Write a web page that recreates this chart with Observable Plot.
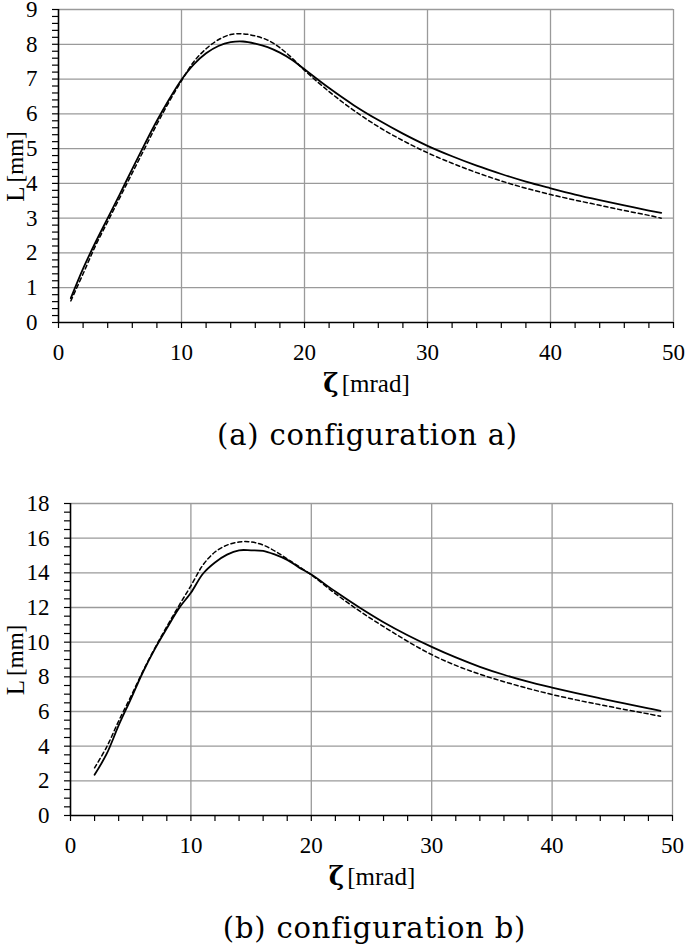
<!DOCTYPE html>
<html><head><meta charset="utf-8">
<script src="https://cdn.jsdelivr.net/npm/d3@7"></script>
<script src="https://cdn.jsdelivr.net/npm/@observablehq/plot@0.6"></script>
<style>
body{margin:0;background:#fff;}
#wrap{position:relative;width:685px;height:952px;overflow:hidden;background:#fff;}
.cap{position:absolute;text-align:center;font-family:"DejaVu Serif",serif;font-size:29px;line-height:36px;letter-spacing:0.8px;color:#000;white-space:nowrap;}
#wrap svg{position:absolute;left:0;}
</style></head><body><div id="wrap"></div>
<script>
// ---- configuration a) ----
const zetaA   = [1,2,3,4,5,6,7,8,9,10,11,12,13,14,15,16,17,18,19,20,22,24,26,28,30,32,34,36,38,40,42,44,46,48,49];
const solidA  = [0.70,1.55,2.30,3.00,3.70,4.42,5.12,5.80,6.42,6.98,7.42,7.74,7.95,8.06,8.08,8.02,7.92,7.76,7.55,7.28,6.74,6.25,5.82,5.43,5.08,4.78,4.51,4.27,4.05,3.86,3.68,3.52,3.37,3.22,3.15];
const dashedA = [0.62,1.40,2.20,2.90,3.60,4.30,5.00,5.70,6.35,6.95,7.50,7.87,8.13,8.28,8.30,8.24,8.12,7.90,7.60,7.25,6.64,6.10,5.63,5.23,4.88,4.58,4.31,4.07,3.86,3.68,3.52,3.37,3.22,3.08,3.00];
// ---- configuration b) ----
const zetaB   = [2,3,4,5,6,7,8,9,10,11,12,13,14,15,16,17,18,19,20,22,24,26,28,30,32,34,36,38,40,42,44,46,48,49];
const solidB  = [2.35,3.55,5.20,6.70,8.25,9.60,10.80,11.95,12.85,13.95,14.60,15.05,15.30,15.30,15.27,15.05,14.75,14.30,13.90,12.92,12.00,11.15,10.40,9.73,9.12,8.58,8.12,7.72,7.38,7.06,6.76,6.47,6.18,6.04];
const dashedB = [2.75,3.95,5.45,6.85,8.30,9.65,10.90,12.10,13.25,14.45,15.20,15.60,15.78,15.78,15.60,15.25,14.80,14.35,13.88,12.80,11.80,10.90,10.05,9.28,8.66,8.15,7.72,7.33,6.98,6.67,6.39,6.12,5.86,5.73];
// ---- ticks and texts ----
const xTicks  = [0,10,20,30,40,50];
const yTicksA = [0,1,2,3,4,5,6,7,8,9];
const yTicksB = [0,2,4,6,8,10,12,14,16,18];
const xLabel  = ["ζ", "[mrad]"];
const yLabel  = ["L", "[mm]"];
const captions = ["(a) configuration a)", "(b) configuration b)"];

const wrap = document.getElementById("wrap");

function chart({zeta, solid, dashed, yTicks, yMinorStep, top, marginLeft, marginRight, plotH}) {
  const yMax = yTicks[yTicks.length - 1];
  const rowsS = zeta.map((z, i) => ({z, L: solid[i]}));
  const rowsD = zeta.map((z, i) => ({z, L: dashed[i]}));
  const xMinor = d3.range(0, 50.001, 2).filter(v => v % 10 !== 0);
  const yMinor = d3.range(0, yMax + 1e-6, yMinorStep).map(v => +v.toFixed(3)).filter(v => !yTicks.includes(v));
  const grid = {stroke: "#9a9a9a", strokeOpacity: 1, strokeWidth: 1.3};
  const svg = Plot.plot({
    width: 685, height: 9 + plotH + 80,
    marginTop: 9, marginBottom: 80, marginLeft, marginRight,
    x: {domain: [0, 50], label: null},
    y: {domain: [0, yMax], label: null},
    style: {fontFamily: "'Liberation Serif', serif", fontSize: "23px", color: "#000", background: "transparent", overflow: "visible"},
    marks: [
      Plot.gridX(xTicks.slice(1), grid),
      Plot.gridY(yTicks.slice(1), grid),
      Plot.axisX(xMinor, {tickSize: 6, tickFormat: () => "", label: null, strokeWidth: 1.2}),
      Plot.axisX(xTicks, {tickSize: 6, tickPadding: 15, label: null, strokeWidth: 1.2, fontSize: 23}),
      Plot.axisY(yMinor, {tickSize: 6, tickFormat: () => "", label: null, strokeWidth: 1.2}),
      Plot.axisY(yTicks, {tickSize: 6, tickPadding: 15, label: null, strokeWidth: 1.2, fontSize: 23}),
      Plot.ruleX([0], {stroke: "#000", strokeWidth: 1.6}),
      Plot.ruleY([0], {stroke: "#000", strokeWidth: 1.6}),
      Plot.line(rowsS, {x: "z", y: "L", stroke: "#000", strokeWidth: 1.8, curve: "catmull-rom"}),
      Plot.line(rowsD, {x: "z", y: "L", stroke: "#000", strokeWidth: 1.5, strokeDasharray: "4,3", curve: "catmull-rom"})
    ]
  });
  svg.style.top = top + "px";
  const s = d3.select(svg);
  const cx = (marginLeft + 685 - marginRight) / 2 + 1;
  const xl = s.append("text")
    .attr("x", cx).attr("y", 9 + plotH + 61)
    .attr("text-anchor", "middle").attr("dominant-baseline", "central")
    .attr("font-family", "'Liberation Serif', serif").attr("fill", "#000");
  xl.append("tspan").attr("font-size", 26).attr("font-weight", "bold").attr("font-family", "'DejaVu Serif', serif").text(xLabel[0]);
  xl.append("tspan").attr("font-size", 25).attr("dx", 3).text(xLabel[1]);
  const yl = s.append("text")
    .attr("transform", `translate(15,${9 + plotH / 2 + 1}) rotate(-90)`)
    .attr("text-anchor", "middle").attr("dominant-baseline", "central")
    .attr("font-family", "'Liberation Serif', serif").attr("fill", "#000");
  yl.append("tspan").attr("font-size", 25).text(yLabel[0]);
  yl.append("tspan").attr("font-size", 23).attr("dx", 4).text(yLabel[1]);
  wrap.appendChild(svg);
}

chart({zeta: zetaA, solid: solidA, dashed: dashedA, yTicks: yTicksA, yMinorStep: 0.2, top: 0, marginLeft: 58, marginRight: 12, plotH: 313});
chart({zeta: zetaB, solid: solidB, dashed: dashedB, yTicks: yTicksB, yMinorStep: 0.5, top: 494, marginLeft: 70, marginRight: 13, plotH: 312});

function caption(text, top, left) {
  const d = document.createElement("div");
  d.className = "cap";
  d.style.top = top + "px";
  d.style.left = left + "px";
  d.style.width = "685px";
  d.textContent = text;
  wrap.appendChild(d);
}
caption(captions[0], 417, 25);
caption(captions[1], 910, 32);
</script>
</body></html>
